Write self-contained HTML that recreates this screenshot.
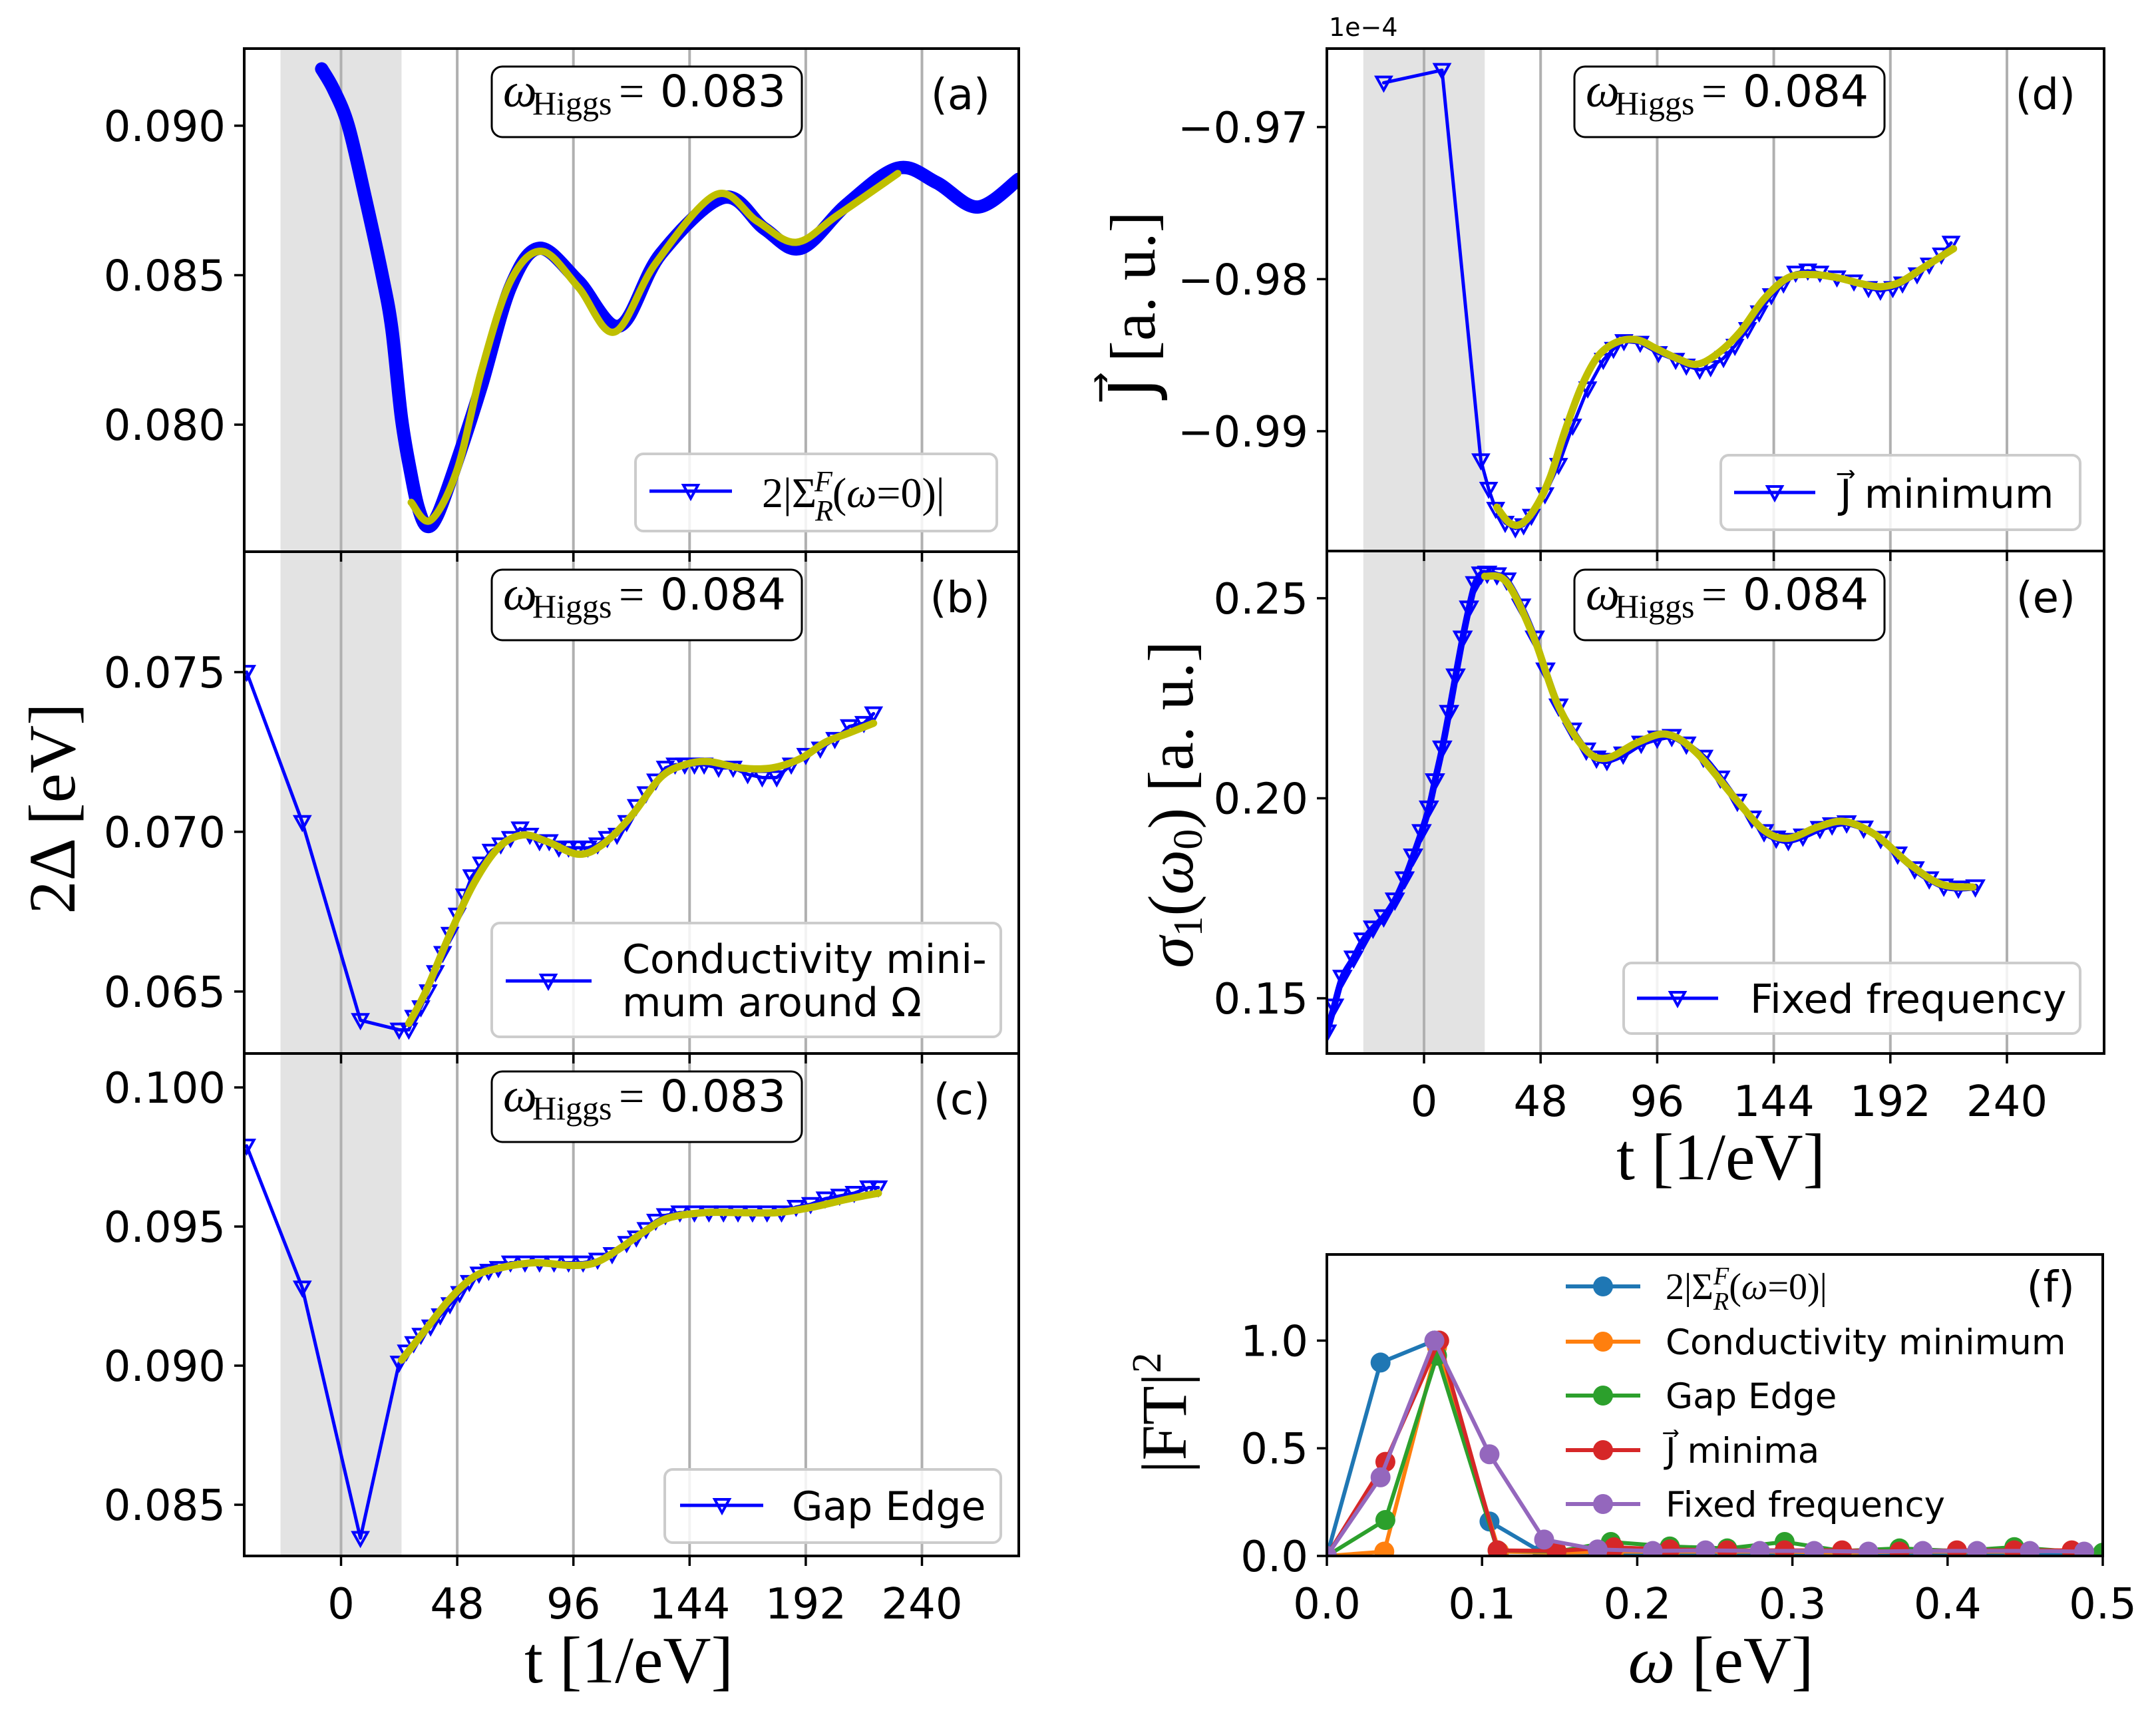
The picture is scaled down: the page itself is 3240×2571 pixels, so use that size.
<!DOCTYPE html>
<html><head><meta charset="utf-8"><style>
html,body{margin:0;padding:0;background:#fff;}
svg{display:block;}
.tk{font-family:"DejaVu Sans","Liberation Sans",sans-serif;font-size:64px;fill:#000;}
.lg{font-family:"DejaVu Sans","Liberation Sans",sans-serif;font-size:60px;fill:#000;}
.sf{font-family:"Liberation Serif","DejaVu Serif",serif;fill:#000;}
</style></head><body>
<svg id="fig" width="3240" height="2571" viewBox="0 0 3240 2571" xmlns="http://www.w3.org/2000/svg">
<rect width="3240" height="2571" fill="#fff"/>
<g id="marks"></g>
<g id="frames"></g>

<g>
<rect x="739" y="100" width="466" height="106" rx="16" fill="#fff" stroke="#000" stroke-width="3"/>
<text x="756" y="160" class="sf" font-size="72" font-style="italic">ω</text><text x="800" y="172" class="sf" font-size="50">Higgs</text><text x="930" y="160" class="sf" font-size="68">=</text><text x="992" y="160" class="tk" style="font-size:66px">0.083</text></g>
<g>
<rect x="739" y="856" width="466" height="106" rx="16" fill="#fff" stroke="#000" stroke-width="3"/>
<text x="756" y="916" class="sf" font-size="72" font-style="italic">ω</text><text x="800" y="928" class="sf" font-size="50">Higgs</text><text x="930" y="916" class="sf" font-size="68">=</text><text x="992" y="916" class="tk" style="font-size:66px">0.084</text></g>
<g>
<rect x="739" y="1610" width="466" height="106" rx="16" fill="#fff" stroke="#000" stroke-width="3"/>
<text x="756" y="1670" class="sf" font-size="72" font-style="italic">ω</text><text x="800" y="1682" class="sf" font-size="50">Higgs</text><text x="930" y="1670" class="sf" font-size="68">=</text><text x="992" y="1670" class="tk" style="font-size:66px">0.083</text></g>
<g>
<rect x="2366" y="100" width="466" height="106" rx="16" fill="#fff" stroke="#000" stroke-width="3"/>
<text x="2383" y="160" class="sf" font-size="72" font-style="italic">ω</text><text x="2427" y="172" class="sf" font-size="50">Higgs</text><text x="2557" y="160" class="sf" font-size="68">=</text><text x="2619" y="160" class="tk" style="font-size:66px">0.084</text></g>
<g>
<rect x="2366" y="856" width="466" height="106" rx="16" fill="#fff" stroke="#000" stroke-width="3"/>
<text x="2383" y="916" class="sf" font-size="72" font-style="italic">ω</text><text x="2427" y="928" class="sf" font-size="50">Higgs</text><text x="2557" y="916" class="sf" font-size="68">=</text><text x="2619" y="916" class="tk" style="font-size:66px">0.084</text></g>

<text x="1488" y="164" class="tk" text-anchor="end">(a)</text>
<text x="1488" y="920" class="tk" text-anchor="end">(b)</text>
<text x="1488" y="1674" class="tk" text-anchor="end">(c)</text>
<text x="3119" y="164" class="tk" text-anchor="end">(d)</text>
<text x="3119" y="920" class="tk" text-anchor="end">(e)</text>
<text x="3118" y="1956" class="tk" text-anchor="end">(f)</text>

<g>
<rect x="955" y="682" width="543" height="116" rx="12" fill="#fff" fill-opacity="0.85" stroke="#ccc" stroke-width="4"/>
<line x1="976" y1="738" x2="1100" y2="738" stroke="#0000ff" stroke-width="5"/>
<polygon points="1027,729 1049,729 1038,749" fill="none" stroke="#0000ff" stroke-width="4"/>
<text x="1145" y="762" class="sf" font-size="64">2|Σ<tspan font-style="italic" font-size="44" dy="20" dx="-2">R</tspan><tspan font-style="italic" font-size="44" dy="-44" dx="-28">F</tspan><tspan dy="24">(</tspan><tspan font-style="italic">ω</tspan>=0)|</text></g>
<g>
<rect x="739" y="1387" width="765" height="171" rx="12" fill="#fff" fill-opacity="0.85" stroke="#ccc" stroke-width="4"/>
<line x1="760" y1="1474" x2="889" y2="1474" stroke="#0000ff" stroke-width="5"/>
<polygon points="813,1465 835,1465 824,1485" fill="none" stroke="#0000ff" stroke-width="4"/>
<text x="935" y="1462" class="lg">Conductivity mini-</text>
<text x="935" y="1527" class="lg">mum around Ω</text></g>
<g>
<rect x="999" y="2208" width="505" height="110" rx="12" fill="#fff" fill-opacity="0.85" stroke="#ccc" stroke-width="4"/>
<line x1="1022" y1="2262" x2="1147" y2="2262" stroke="#0000ff" stroke-width="5"/>
<polygon points="1074,2253 1096,2253 1085,2273" fill="none" stroke="#0000ff" stroke-width="4"/>
<text x="1190" y="2284" class="lg">Gap Edge</text></g>
<g>
<rect x="2586" y="684" width="540" height="112" rx="12" fill="#fff" fill-opacity="0.85" stroke="#ccc" stroke-width="4"/>
<line x1="2606" y1="740" x2="2728" y2="740" stroke="#0000ff" stroke-width="5"/>
<polygon points="2656,731 2678,731 2667,751" fill="none" stroke="#0000ff" stroke-width="4"/>
<text x="2765" y="763" class="lg">J⃗ minimum</text></g>
<g>
<rect x="2440" y="1447" width="686" height="106" rx="12" fill="#fff" fill-opacity="0.85" stroke="#ccc" stroke-width="4"/>
<line x1="2460" y1="1500" x2="2582" y2="1500" stroke="#0000ff" stroke-width="5"/>
<polygon points="2510,1491 2532,1491 2521,1511" fill="none" stroke="#0000ff" stroke-width="4"/>
<text x="2630" y="1522" class="lg">Fixed frequency</text></g>

<text x="945" y="2528" class="sf" font-size="100" text-anchor="middle">t [1/eV]</text>
<text x="2586" y="1772" class="sf" font-size="100" text-anchor="middle">t [1/eV]</text>
<text x="2586" y="2528" class="sf" font-size="100" text-anchor="middle"><tspan font-style="italic">ω</tspan> [eV]</text>
<text transform="translate(112,1215) rotate(-90)" class="sf" font-size="100" text-anchor="middle">2Δ [eV]</text>
<text transform="translate(1735,457) rotate(-90)" class="sf" font-size="96" text-anchor="middle">J⃗  [a. u.]</text>
<text transform="translate(1792,1209) rotate(-90)" class="sf" font-size="96" text-anchor="middle"><tspan font-style="italic">σ</tspan><tspan font-size="62" dy="14">1</tspan><tspan dy="-14">(</tspan><tspan font-style="italic">ω</tspan><tspan font-size="62" dy="14">0</tspan><tspan dy="-14">) [a. u.]</tspan></text>
<text transform="translate(1782,2123) rotate(-90)" class="sf" font-size="96" text-anchor="middle">|FT|<tspan font-size="62" dy="-38">2</tspan></text>
<text x="1997" y="54" class="tk" style="font-size:38px">1e−4</text>
</svg>

<script>
const tTicks = [0, 48, 96, 144, 192, 240];
const yTicksA = [0.080, 0.085, 0.090];
const yTicksB = [0.065, 0.070, 0.075];
const yTicksC = [0.085, 0.090, 0.095, 0.100];
const yTicksD = [-0.99, -0.98, -0.97];
const yTicksE = [0.15, 0.20, 0.25];
const xTicksF = [0.0, 0.1, 0.2, 0.3, 0.4, 0.5];
const yTicksF = [0.0, 0.5, 1.0];

const tBlueA = [-8, -3, 3, 10, 17, 21, 25, 29, 32, 35.5, 40, 48, 58, 70, 82, 98, 115, 132, 158, 175, 190, 209, 230, 246, 263, 280];
const vBlueA = [0.0919, 0.0912, 0.0900, 0.0876, 0.0850, 0.0832, 0.0802, 0.0783, 0.0772, 0.0766, 0.0770, 0.0788, 0.0813, 0.0846, 0.0859, 0.0848, 0.0833, 0.0857, 0.0876, 0.08655, 0.0859, 0.08737, 0.08858, 0.0881, 0.08728, 0.08821];
const tYelA = [29, 37, 48, 58, 70, 83, 98, 113, 130, 155, 172, 188, 205, 230];
const vYelA = [0.0774, 0.0768, 0.0785, 0.0818, 0.0848, 0.0858, 0.0846, 0.0831, 0.0854, 0.0877, 0.0868, 0.0861, 0.0870, 0.0884];

const tBlueB = [-39,-16,8,24,28,30,33,36,39,42,45,48,51,54,58,62,66,70,74,78,82,86,90,94,98,102,106,110,114,118,122,126,130,134,138,142,146,150,156,162,168,174,180,186,192,198,204,210,216,220];
const vBlueB = [0.0750,0.0703,0.0641,0.0638,0.0638,0.0642,0.0645,0.0650,0.0656,0.0662,0.0668,0.0674,0.0680,0.0686,0.0690,0.0694,0.0696,0.0698,0.0701,0.0699,0.0697,0.0697,0.0695,0.0695,0.0695,0.0695,0.0696,0.0698,0.0699,0.0703,0.0708,0.0712,0.0716,0.0720,0.0721,0.0721,0.0721,0.0721,0.0720,0.0720,0.0718,0.0717,0.0717,0.0721,0.0724,0.0726,0.0729,0.0733,0.0734,0.0737];
const tYelB = [28,35,45,55,65,75,85,98,108,120,132,142,152,165,178,190,200,210,220];
const vYelB = [0.0640,0.0650,0.0668,0.0684,0.0695,0.0699,0.0697,0.0693,0.0696,0.0705,0.0717,0.0721,0.0722,0.0720,0.0720,0.0723,0.0728,0.0731,0.0734];

const tBlueC = [-39,-16,8,24,27,30,33,37,41,45,49,53,57,61,65,70,76,82,88,94,100,106,112,118,122,126,130,134,140,146,152,158,164,170,176,182,188,194,200,206,212,218,222];
const vBlueC = [0.0979,0.0928,0.0838,0.0901,0.0905,0.0908,0.0911,0.0914,0.0918,0.0922,0.0926,0.0930,0.0933,0.0934,0.0935,0.0937,0.0937,0.0937,0.0937,0.0937,0.0937,0.0938,0.0940,0.0944,0.0946,0.0949,0.0952,0.0954,0.0955,0.0955,0.0955,0.0955,0.0955,0.0955,0.0955,0.0955,0.0957,0.0958,0.0960,0.0961,0.0962,0.0964,0.0964];
const tYelC = [25,35,45,55,65,80,95,105,115,125,135,150,165,180,195,210,222];
const vYelC = [0.0902,0.0913,0.0924,0.0932,0.0935,0.0937,0.0936,0.0937,0.0942,0.0948,0.0953,0.0955,0.0955,0.0955,0.0957,0.0960,0.0962];

const tBlueD = [-16.6,7.4,23.4,26.6,29.5,33.4,37.6,41,44.2,49.8,55.4,61.2,67.4,73.8,78,82.3,89,96.5,103.6,108,113.5,118,123.3,128,133.2,138,143,148,153,158,163,170,177,183,187.9,193,197,203,208,213,217];
const vBlueD = [-0.96709,-0.96626,-0.99193,-0.9938,-0.99512,-0.99604,-0.9964,-0.9962,-0.99558,-0.99416,-0.99223,-0.98965,-0.9872,-0.98532,-0.9846,-0.98409,-0.9842,-0.98488,-0.98532,-0.9857,-0.98597,-0.9858,-0.9852,-0.9844,-0.9833,-0.9822,-0.98107,-0.9803,-0.97959,-0.97945,-0.97959,-0.9799,-0.98017,-0.9806,-0.98077,-0.9806,-0.9803,-0.9797,-0.97906,-0.9784,-0.97762];
const tYelD = [30,35,40,46,52,58,65,72,80,88,96,104,112,120,130,140,150,160,170,180,188,196,206,218];
const vYelD = [-0.9950,-0.9960,-0.9961,-0.9950,-0.9930,-0.9900,-0.9870,-0.9850,-0.9841,-0.9840,-0.9846,-0.9852,-0.9856,-0.9850,-0.9835,-0.9813,-0.9799,-0.9797,-0.9799,-0.9803,-0.9805,-0.9802,-0.9792,-0.9780];

const tBlueE = [-40,-37,-33.6,-29,-25,-21,-16.6,-12,-8,-4.5,-1,2,4.5,7.5,10.3,13,15.9,18.5,21,23.5,26,30,34,40,45.6,50,55.4,61,66.8,71,75.3,82,89.4,96,102,108,115,122,129,135,140,145,150,156,163,168,174,181,188,195,202,208,214,220,227];
const vBlueE = [0.1415,0.1480,0.1552,0.1600,0.1645,0.1675,0.1703,0.1745,0.1798,0.1855,0.1916,0.1975,0.2043,0.2125,0.2214,0.2305,0.2400,0.2475,0.2536,0.2560,0.2562,0.2558,0.2545,0.2480,0.2400,0.2320,0.2230,0.2170,0.2120,0.2100,0.2094,0.2110,0.2137,0.2150,0.2154,0.2135,0.2102,0.2050,0.1992,0.1950,0.1916,0.1900,0.1894,0.1905,0.1924,0.1933,0.1938,0.1925,0.1899,0.1860,0.1823,0.1798,0.1780,0.1775,0.1778];
const tYelE = [25,34,45,55,66,75,88,100,112,128,140,150,162,173,186,200,213,226];
const vYelE = [0.2555,0.2540,0.2405,0.2235,0.2125,0.2100,0.2140,0.2160,0.2115,0.2000,0.1920,0.1900,0.1928,0.1942,0.1908,0.1835,0.1785,0.1778];

const fNames = ["2|Σ(ω=0)|", "Conductivity minimum", "Gap Edge", "J minima", "Fixed frequency"];
const fColors = ["#1f77b4", "#ff7f0e", "#2ca02c", "#d62728", "#9467bd"];
const wSigma = [0, 0.0346, 0.0693, 0.1048, 0.139, 0.174, 0.209, 0.244, 0.279, 0.314, 0.349, 0.384, 0.419, 0.453, 0.488];
const pSigma = [0, 0.898, 1.0, 0.16, 0.015, 0.01, 0.008, 0.01, 0.008, 0.008, 0.008, 0.008, 0.008, 0.008, 0.008];
const wCond = [0, 0.037, 0.071, 0.111, 0.148, 0.185, 0.221, 0.258, 0.295, 0.332, 0.369, 0.406, 0.443, 0.48];
const pCond = [0, 0.02, 0.97, 0.02, 0.015, 0.02, 0.02, 0.02, 0.02, 0.015, 0.02, 0.02, 0.02, 0.025];
const wGap = [0, 0.0377, 0.071, 0.11, 0.148, 0.183, 0.221, 0.258, 0.295, 0.332, 0.369, 0.406, 0.443, 0.48, 0.5];
const pGap = [0, 0.167, 0.93, 0.026, 0.02, 0.065, 0.044, 0.035, 0.065, 0.023, 0.035, 0.023, 0.041, 0.02, 0.015];
const wJ = [0, 0.0377, 0.0724, 0.110, 0.148, 0.185, 0.221, 0.258, 0.295, 0.332, 0.369, 0.406, 0.443, 0.48];
const pJ = [0, 0.437, 1.0, 0.026, 0.023, 0.04, 0.03, 0.026, 0.026, 0.026, 0.02, 0.026, 0.026, 0.026];
const wFix = [0, 0.0346, 0.0693, 0.1048, 0.14, 0.1745, 0.21, 0.244, 0.279, 0.314, 0.349, 0.384, 0.419, 0.453, 0.488];
const pFix = [0, 0.365, 1.0, 0.472, 0.076, 0.03, 0.023, 0.026, 0.023, 0.023, 0.02, 0.023, 0.023, 0.023, 0.02];

const NS = "http://www.w3.org/2000/svg";
const marks = document.getElementById("marks");
const frames = document.getElementById("frames");
function mk(tag, parent) { const e = document.createElementNS(NS, tag); parent.appendChild(e); return e; }
function scale(d0, d1, r0, r1) { return v => r0 + (v - d0) / (d1 - d0) * (r1 - r0); }

const panels = {
  a: {x0: 367, x1: 1531, y0: 73, y1: 829, xmin: -40, xmax: 280, ymin: 0.07575, ymax: 0.09258, yt: yTicksA, dec: 3},
  b: {x0: 367, x1: 1531, y0: 829, y1: 1583, xmin: -40, xmax: 280, ymin: 0.06306, ymax: 0.07877, yt: yTicksB, dec: 3},
  c: {x0: 367, x1: 1531, y0: 1583, y1: 2338, xmin: -40, xmax: 280, ymin: 0.08316, ymax: 0.10122, yt: yTicksC, dec: 3, xlab: true},
  d: {x0: 1994, x1: 3162, y0: 73, y1: 828, xmin: -40, xmax: 280, ymin: -0.99788, ymax: -0.96484, yt: yTicksD, dec: 2},
  e: {x0: 1994, x1: 3162, y0: 828, y1: 1583, xmin: -40, xmax: 280, ymin: 0.1362, ymax: 0.2618, yt: yTicksE, dec: 2, xlab: true},
  f: {x0: 1994, x1: 3160, y0: 1885, y1: 2338, xmin: 0, xmax: 0.5, ymin: 0, ymax: 1.40, yt: yTicksF, dec: 1}
};
for (const k in panels) {
  const p = panels[k];
  p.sx = scale(p.xmin, p.xmax, p.x0, p.x1);
  p.sy = scale(p.ymin, p.ymax, p.y1, p.y0);
}

function fmt(v, d) { return (v < 0 ? "−" : "") + Math.abs(v).toFixed(d); }

function smoothPath(pts) {
  let d = "M" + pts[0][0] + "," + pts[0][1];
  for (let i = 0; i < pts.length - 1; i++) {
    const p0 = pts[Math.max(0, i - 1)], p1 = pts[i], p2 = pts[i + 1], p3 = pts[Math.min(pts.length - 1, i + 2)];
    const c1x = p1[0] + (p2[0] - p0[0]) / 6, c1y = p1[1] + (p2[1] - p0[1]) / 6;
    const c2x = p2[0] - (p3[0] - p1[0]) / 6, c2y = p2[1] - (p3[1] - p1[1]) / 6;
    d += " C" + c1x + "," + c1y + " " + c2x + "," + c2y + " " + p2[0] + "," + p2[1];
  }
  return d;
}
function pts(p, xs, ys) {
  const out = [];
  for (let i = 0; i < Math.min(xs.length, ys.length); i++) out.push([p.sx(xs[i]), p.sy(ys[i])]);
  return out;
}

["a","b","c","d","e"].forEach(k => {
  const p = panels[k];
  const sh = mk("rect", marks);
  
  
  sh.setAttribute("x", p.sx(-25)); sh.setAttribute("y", p.y0);
  sh.setAttribute("width", p.sx(25) - p.sx(-25)); sh.setAttribute("height", p.y1 - p.y0);
  sh.setAttribute("fill", "#e3e3e3");
  tTicks.forEach(t => {
    const g = mk("line", marks);
    
    
    g.setAttribute("x1", p.sx(t)); g.setAttribute("x2", p.sx(t));
    g.setAttribute("y1", p.y0); g.setAttribute("y2", p.y1);
    g.setAttribute("stroke", "#b0b0b0"); g.setAttribute("stroke-width", "4");
  });
});

const defs = mk("defs", marks);
for (const k in panels) {
  const p = panels[k];
  const cp = mk("clipPath", defs); cp.setAttribute("id", "clip-" + k);
  const r = mk("rect", cp);
  r.setAttribute("x", p.x0); r.setAttribute("y", p.y0);
  r.setAttribute("width", p.x1 - p.x0); r.setAttribute("height", p.y1 - p.y0);
}

function drawLine(k, xs, ys, color, width, smooth, name) {
  const p = panels[k];
  const P = pts(p, xs, ys);
  const path = mk("path", marks);
  
  
  path.setAttribute("d", smooth ? smoothPath(P) : "M" + P.map(q => q[0] + "," + q[1]).join(" L"));
  path.setAttribute("fill", "none"); path.setAttribute("stroke", color);
  path.setAttribute("stroke-width", width); path.setAttribute("stroke-linejoin", "round");
  path.setAttribute("stroke-linecap", "round");
  path.setAttribute("clip-path", "url(#clip-" + k + ")");
}
function drawTri(k, xs, ys, s, name) {
  const p = panels[k];
  pts(p, xs, ys).forEach(q => {
    const t = mk("polygon", marks);
    
    
    t.setAttribute("points", (q[0]-s)+","+(q[1]-s*0.8)+" "+(q[0]+s)+","+(q[1]-s*0.8)+" "+q[0]+","+(q[1]+s));
    t.setAttribute("fill", "none"); t.setAttribute("stroke", "#0000ff"); t.setAttribute("stroke-width", "4");
    t.setAttribute("clip-path", "url(#clip-" + k + ")");
  });
}

drawLine("a", tBlueA, vBlueA, "#0000ff", 20, true, "gap-self-energy-series");
drawLine("a", tYelA, vYelA, "#bfbf00", 11, true, "gap-self-energy-fit");
drawLine("b", tBlueB, vBlueB, "#0000ff", 5, false, "conductivity-minimum-series");
drawTri("b", tBlueB, vBlueB, 11, "conductivity-minimum-marker");
drawLine("b", tYelB, vYelB, "#bfbf00", 11, true, "conductivity-minimum-fit");
drawLine("c", tBlueC, vBlueC, "#0000ff", 5, false, "gap-edge-series");
drawTri("c", tBlueC, vBlueC, 11, "gap-edge-marker");
drawLine("c", tYelC, vYelC, "#bfbf00", 11, true, "gap-edge-fit");
drawLine("d", tBlueD, vBlueD, "#0000ff", 5, false, "current-minimum-series");
drawTri("d", tBlueD, vBlueD, 11, "current-minimum-marker");
drawLine("d", tYelD, vYelD, "#bfbf00", 11, true, "current-minimum-fit");
drawLine("e", tBlueE, vBlueE, "#0000ff", 10, true, "fixed-frequency-series");
drawTri("e", tBlueE, vBlueE, 12, "fixed-frequency-marker");
drawLine("e", tYelE, vYelE, "#bfbf00", 11, true, "fixed-frequency-fit");

const fW = [wSigma, wCond, wGap, wJ, wFix];
const fP = [pSigma, pCond, pGap, pJ, pFix];
for (let s = 0; s < 5; s++) {
  drawLine("f", fW[s], fP[s], fColors[s], 6, false, "ft-line-" + s);
  pts(panels.f, fW[s], fP[s]).forEach(q => {
    const c = mk("circle", marks);
    
    
    c.setAttribute("cx", q[0]); c.setAttribute("cy", q[1]); c.setAttribute("r", 15);
    c.setAttribute("fill", fColors[s]);
    c.setAttribute("clip-path", "url(#clip-f)");
  });
}
const legY = [1933, 2016, 2097, 2179, 2260];
const legLabels = ["2|Σ", "Conductivity minimum", "Gap Edge", "J⃗ minima", "Fixed frequency"];
for (let s = 0; s < 5; s++) {
  const ln = mk("line", frames);
  
  
  ln.setAttribute("x1", 2353); ln.setAttribute("x2", 2465); ln.setAttribute("y1", legY[s]); ln.setAttribute("y2", legY[s]);
  ln.setAttribute("stroke", fColors[s]); ln.setAttribute("stroke-width", 6);
  const c = mk("circle", frames);
  
  
  c.setAttribute("cx", 2409); c.setAttribute("cy", legY[s]); c.setAttribute("r", 15); c.setAttribute("fill", fColors[s]);
  const t = mk("text", frames);
  
  
  t.setAttribute("x", 2503); t.setAttribute("y", legY[s] + 19);
  if (s === 0) {
    t.setAttribute("class", "sf"); t.setAttribute("font-size", "56");
    t.innerHTML = '2|Σ<tspan font-style="italic" font-size="38" dy="16">R</tspan><tspan font-style="italic" font-size="38" dy="-38" dx="-23">F</tspan><tspan dy="22">(</tspan><tspan font-style="italic">ω</tspan>=0)|';
  } else {
    t.setAttribute("class", "lg");
    t.setAttribute("style", "font-size:53px");
    t.textContent = legLabels[s];
  }
}

for (const k in panels) {
  const p = panels[k];
  const r = mk("rect", frames);
  
  
  r.setAttribute("x", p.x0); r.setAttribute("y", p.y0);
  r.setAttribute("width", p.x1 - p.x0); r.setAttribute("height", p.y1 - p.y0);
  r.setAttribute("fill", "none"); r.setAttribute("stroke", "#000"); r.setAttribute("stroke-width", "4");
  p.yt.forEach(v => {
    const y = p.sy(v);
    const tl = mk("line", frames);
    
    
    tl.setAttribute("x1", p.x0 - 15); tl.setAttribute("x2", p.x0); tl.setAttribute("y1", y); tl.setAttribute("y2", y);
    tl.setAttribute("stroke", "#000"); tl.setAttribute("stroke-width", "3.5");
    const tx = mk("text", frames);
    
    
    tx.setAttribute("x", p.x0 - 28); tx.setAttribute("y", y + 23);
    tx.setAttribute("text-anchor", "end"); tx.setAttribute("class", "tk");
    tx.textContent = fmt(v, p.dec);
  });
  const xt = (k === "f") ? xTicksF : tTicks;
  const showLab = (k === "f") || p.xlab;
  xt.forEach(v => {
    const x = p.sx(v);
    const tl = mk("line", frames);
    
    
    tl.setAttribute("x1", x); tl.setAttribute("x2", x); tl.setAttribute("y1", p.y1); tl.setAttribute("y2", p.y1 + 15);
    tl.setAttribute("stroke", "#000"); tl.setAttribute("stroke-width", "3.5");
    if (showLab) {
      const tx = mk("text", frames);
      
      
      tx.setAttribute("x", x); tx.setAttribute("y", p.y1 + 94);
      tx.setAttribute("text-anchor", "middle"); tx.setAttribute("class", "tk");
      tx.textContent = (k === "f") ? v.toFixed(1) : String(v);
    }
  });
}
</script>
</body></html>
